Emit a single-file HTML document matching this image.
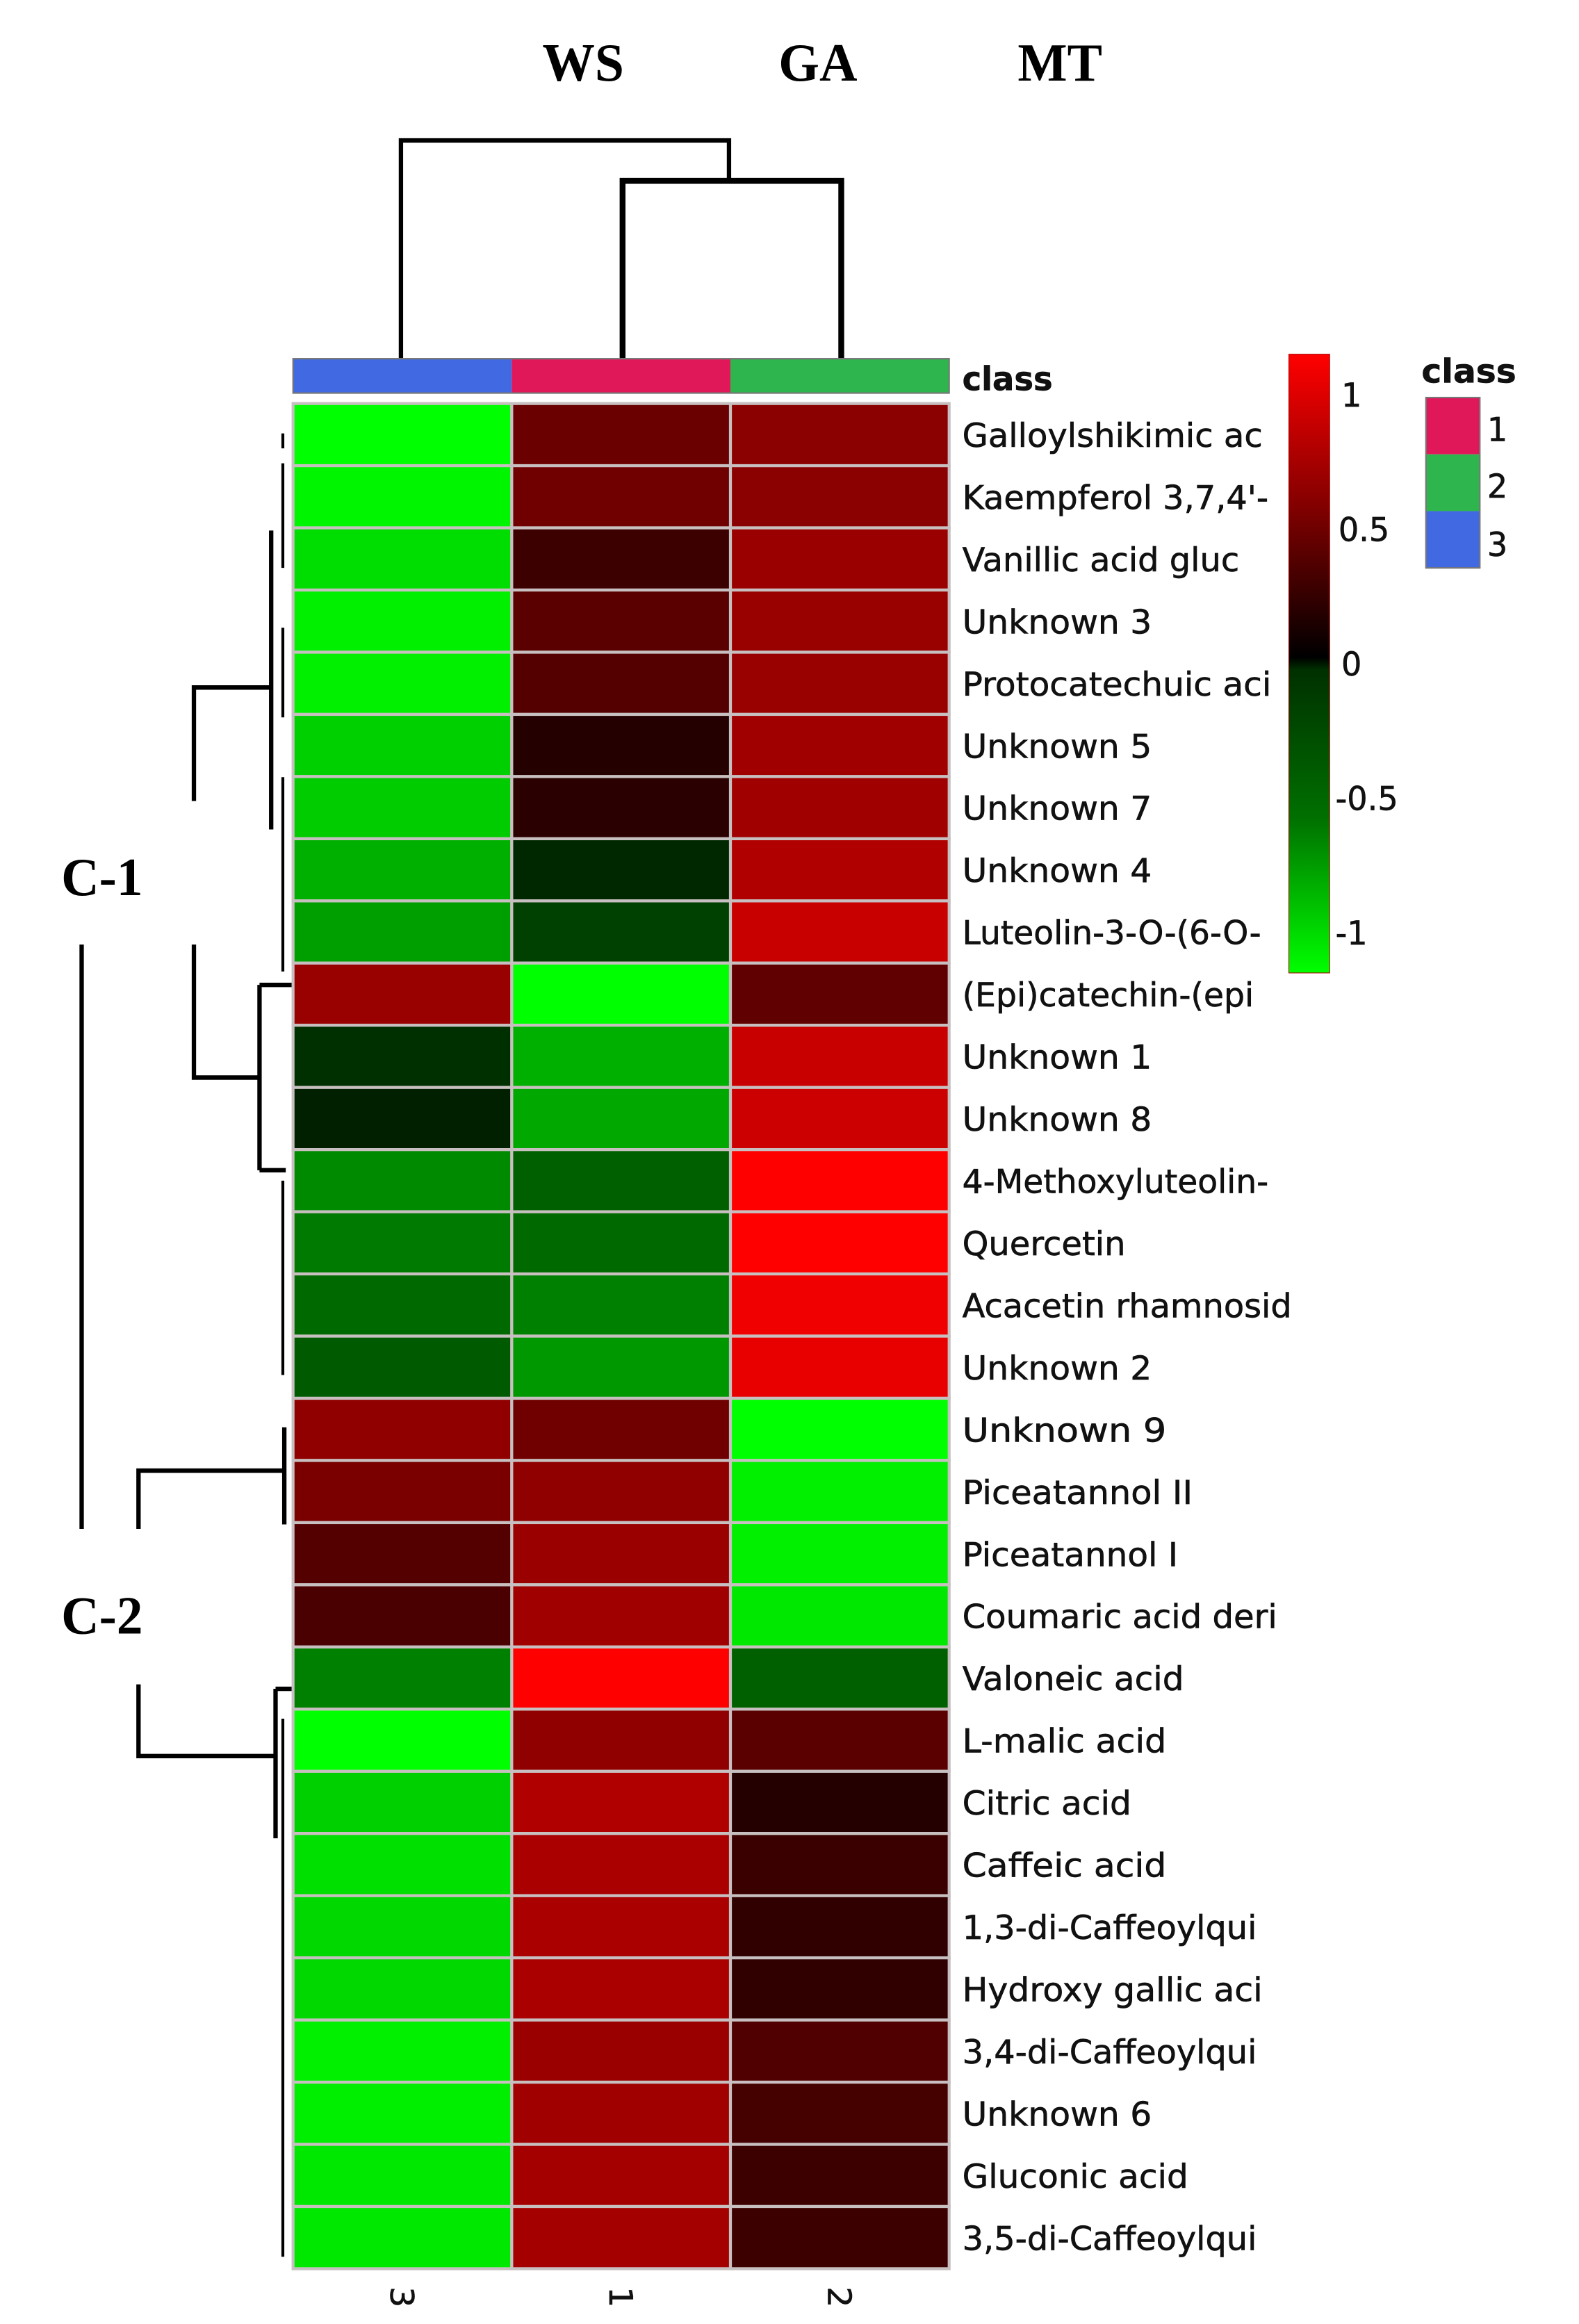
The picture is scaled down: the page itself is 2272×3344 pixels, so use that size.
<!DOCTYPE html>
<html><head><meta charset="utf-8"><style>
html,body{margin:0;padding:0;background:#fff;}
svg{display:block;}
.lb{font-family:"DejaVu Sans","Liberation Sans",sans-serif;font-size:22px;fill:#111;stroke:#111;stroke-width:0.3px;}
.ti{font-family:"Liberation Serif",serif;font-weight:bold;font-size:36px;fill:#000;}
</style></head><body>
<svg width="2272" height="3344" viewBox="0 0 1083 1555" preserveAspectRatio="none" xmlns="http://www.w3.org/2000/svg">
<defs>
<linearGradient id="cb" x1="0" y1="0" x2="0" y2="1">
<stop offset="0" stop-color="#ff0000"/>
<stop offset="0.25" stop-color="#800000"/>
<stop offset="0.49" stop-color="#000000"/>
<stop offset="0.51" stop-color="#003000"/>
<stop offset="0.75" stop-color="#007000"/>
<stop offset="1" stop-color="#00ff00"/>
</linearGradient>
</defs>
<rect width="1083" height="1555" fill="#fff"/>
<text class="ti" x="400" y="54" text-anchor="middle">WS</text>
<text class="ti" x="561" y="54" text-anchor="middle">GA</text>
<text class="ti" x="727" y="54" text-anchor="middle">MT</text>
<g stroke="#000" stroke-width="3" fill="none">
<path d="M275 240 V94 H500 V120"/>
<path d="M427 240 V121 H577 V240" stroke-width="4"/>
</g>
<rect x="201" y="240" width="150" height="23" fill="#4169e1"/>
<rect x="351" y="240" width="150" height="23" fill="#e0185a"/>
<rect x="501" y="240" width="150" height="23" fill="#2eb54e"/>
<rect x="201" y="240" width="450" height="23" fill="none" stroke="#777" stroke-width="1"/>
<text class="lb" x="660" y="261" font-weight="bold" textLength="62" lengthAdjust="spacingAndGlyphs">class</text>
<g id="hm"></g>
<g stroke="#000" stroke-width="3" fill="none">
<path d="M186 460 H133 V536"/>
<path d="M133 632 V721 H178"/>
<path d="M186 355 V555"/>
<path d="M178 659 V783"/>
<path d="M178 659 H200"/>
<path d="M178 783 H196"/>
<path d="M56 632 V1023"/>
<path d="M195 984 H95 V1023"/>
<path d="M95 1127 V1175 H189"/>
<path d="M195 955 V1020"/>
<path d="M189 1130 V1230"/>
<path d="M189 1130 H200"/>
<path d="M194 1150 V1510" stroke-width="2"/>
<path d="M194 290 V300" stroke-width="2"/>
<path d="M194 310 V380 M194 420 V480 M194 520 V650 M194 790 V920" stroke-width="2"/>
</g>
<text class="ti" x="70" y="599" text-anchor="middle">C-1</text>
<text class="ti" x="70" y="1093" text-anchor="middle">C-2</text>
<rect x="884" y="237" width="28" height="414" fill="url(#cb)" stroke="#a00" stroke-width="0.5"/>
<g class="lb" font-size="22">
<text x="920" y="272">1</text>
<text x="918" y="362">0.5</text>
<text x="920" y="452">0</text>
<text x="916" y="542">-0.5</text>
<text x="916" y="632">-1</text>
</g>
<text class="lb" x="975" y="256" font-weight="bold" textLength="65" lengthAdjust="spacingAndGlyphs">class</text>
<rect x="978" y="266" width="37" height="38" fill="#e0185a"/>
<rect x="978" y="304" width="37" height="38" fill="#2eb54e"/>
<rect x="978" y="342" width="37" height="38" fill="#4169e1"/>
<rect x="978" y="266" width="37" height="114" fill="none" stroke="#777" stroke-width="1"/>
<g class="lb"><text x="1020" y="295">1</text><text x="1020" y="333">2</text><text x="1020" y="372">3</text></g>
<g class="lb" font-size="22">
<text transform="translate(268,1530) rotate(90)">3</text>
<text transform="translate(418,1530) rotate(90)">1</text>
<text transform="translate(568,1530) rotate(90)">2</text>
</g>
<script>
var rows=[
["Galloylshikimic ac","#00ff00","#6b0000","#8b0000",206],
["Kaempferol 3,7,4'-","#00f500","#700000","#8b0000",210],
["Vanillic acid gluc","#00dd00","#3d0000","#9a0000",190],
["Unknown 3","#00f000","#5a0000","#990000",130],
["Protocatechuic aci","#00f000","#550000","#990000",212],
["Unknown 5","#00d000","#250000","#a00000",130],
["Unknown 7","#00cc00","#2a0000","#a00000",130],
["Unknown 4","#00b000","#002800","#b00000",130],
["Luteolin-3-O-(6-O-","#009f00","#004000","#c80000",205],
["(Epi)catechin-(epi","#990000","#00ff00","#600000",200],
["Unknown 1","#003000","#00b000","#c80000",130],
["Unknown 8","#002000","#00a800","#cc0000",130],
["4-Methoxyluteolin-","#008a00","#006000","#ff0000",210],
["Quercetin","#007a00","#006a00","#ff0000",112],
["Acacetin rhamnosid","#006a00","#008000","#f00000",226],
["Unknown 2","#005a00","#009800","#e80000",130],
["Unknown  9","#900000","#700000","#00ff00",140],
["Piceatannol II","#7a0000","#900000","#00f000",158],
["Piceatannol I","#550000","#9a0000","#00f000",148],
["Coumaric acid deri","#4a0000","#a00000","#00e800",216],
["Valoneic acid","#008000","#ff0000","#006000",152],
["L-malic acid","#00ff00","#900000","#5a0000",140],
["Citric acid","#00d000","#b00000","#250000",116],
["Caffeic acid","#00e000","#aa0000","#3a0000",140],
["1,3-di-Caffeoylqui","#00d800","#aa0000","#300000",202],
["Hydroxy gallic aci","#00d800","#aa0000","#300000",206],
["3,4-di-Caffeoylqui","#00f000","#9a0000","#500000",202],
["Unknown 6","#00ee00","#a00000","#450000",130],
["Gluconic acid","#00e800","#a40000","#3c0000",155],
["3,5-di-Caffeoylqui","#00e800","#a40000","#3c0000",202]];
var g=document.getElementById('hm'),ns="http://www.w3.org/2000/svg",h=1248/30,xs=[201,351,501];
rows.forEach(function(r,i){var y=270+i*h;
for(var c=0;c<3;c++){var e=document.createElementNS(ns,'rect');e.setAttribute('x',xs[c]);e.setAttribute('y',y);e.setAttribute('width',150);e.setAttribute('height',h);e.setAttribute('fill',r[c+1]);e.setAttribute('stroke','#c8c0c0');e.setAttribute('stroke-width','2');g.appendChild(e);}
var t=document.createElementNS(ns,'text');t.setAttribute('class','lb');t.setAttribute('x',660);t.setAttribute('y',y+29);t.setAttribute('textLength',r[4]);t.setAttribute('lengthAdjust','spacingAndGlyphs');t.textContent=r[0];g.parentNode.appendChild(t);});
</script>
</svg>
</body></html>
